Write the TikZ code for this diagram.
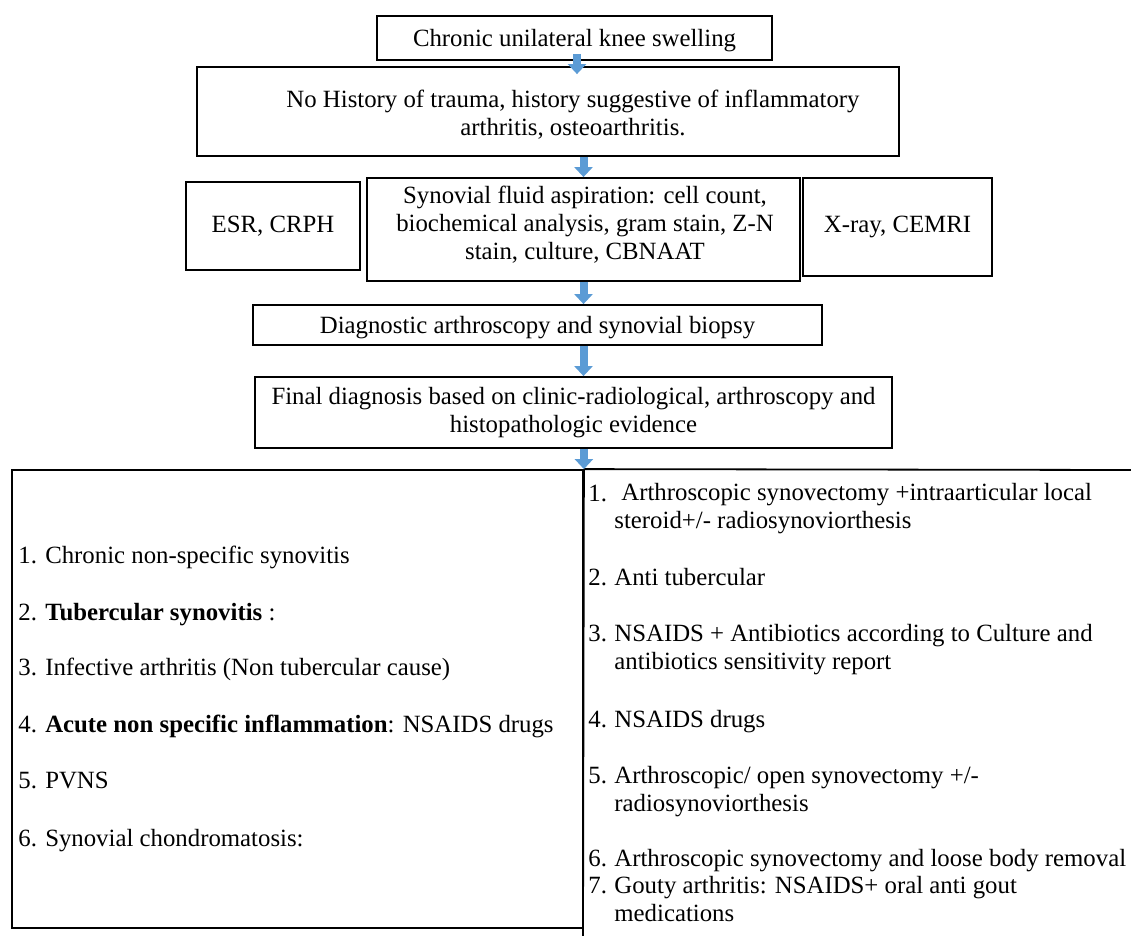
\documentclass[tikz,border=0pt]{standalone}
\usepackage{fontspec}
\setmainfont{Liberation Serif}
\usepackage{xcolor}
\usepackage{tikz}
\usetikzlibrary{arrows.meta, positioning, calc}
\definecolor{flowblue}{HTML}{5B9BD5}

\begin{document}
\begin{tikzpicture}[x=0.5pt, y=-0.5pt,
  box/.style={draw, line width=0.9pt, align=center, inner sep=0pt, font=\fontsize{12.4}{14}\selectfont},
  boxtext/.style={align=center, inner sep=0pt, font=\fontsize{12.4}{14}\selectfont},
  item/.style={anchor=base west, align=left, inner sep=0pt, font=\fontsize{12.4}{14}\selectfont},
  flow/.style={line width=4pt, flowblue, -{Triangle[length=5pt, width=9pt]}}]
  \useasboundingbox (0,0) rectangle (1131,936);

  % Top of the chart
  \node[box, minimum width=197.5pt, minimum height=22pt, text depth=0pt] (start) at (574.5,38) {Chronic unilateral knee swelling};
  \node[box, minimum width=351pt, minimum height=44.5pt] (history) at (548,111.5) {};
  \node[boxtext] (historytext) at (573,115)
    {No History of trauma, history suggestive of inflammatory\\arthritis, osteoarthritis.};

  % Investigations
  \node[box, minimum width=87pt, minimum height=44pt] (esr) at (273,226) {ESR, CRPH};
  \node[box, minimum width=216.5pt, minimum height=51.5pt] (fluid) at (583.5,229.5) {};
  \node[boxtext] (fluidtext) at (585,225)
    {Synovial fluid aspiration: cell count,\\biochemical analysis, gram stain, Z-N\\stain, culture, CBNAAT};
  \node[box, minimum width=94.5pt, minimum height=49pt] (xray) at (897.5,227) {X-ray, CEMRI};

  \node[box, minimum width=284.5pt, minimum height=20pt, text depth=0pt] (arthro) at (537.5,325) {Diagnostic arthroscopy and synovial biopsy};
  \node[box, minimum width=318.5pt, minimum height=35.5pt] (final) at (573.5,412.5)
    {Final diagnosis based on clinic-radiological, arthroscopy and\\histopathologic evidence};

  % Diagnosis box and treatment lines
  \node[draw, line width=0.9pt, minimum width=285.5pt, minimum height=229pt, inner sep=0pt] (diagbox) at (297.5,699) {};
  \coordinate (treatend) at (1131,470);
  \coordinate (treatfoot) at (583,936);
  \draw[line width=0.9pt] (diagbox.north east) -- (treatend);
  \draw[line width=0.9pt] (diagbox.north east) -- (treatfoot);

  % Arrows
  \draw[flow] ([xshift=1.25pt, yshift=3.5pt]start.south) -- ([xshift=1.25pt, yshift=-4pt]start.south |- history.north);
  \draw[flow] (history.south -| fluid.north) -- (fluid.north);
  \draw[flow] (fluid.south) -- (fluid.south |- arthro.north);
  \draw[flow] (arthro.south -| fluid.south) -- (final.north -| fluid.south);
  \draw[flow] (final.south -| diagbox.north east) -- (diagbox.north east);

  % Diagnoses
  \node[item] (dx1) at (18,563) {1. Chronic non-specific synovitis};
  \node[item] (dx2) at (18,620) {2. \textbf{Tubercular synovitis} :};
  \node[item] (dx3) at (18,675) {3. Infective arthritis (Non tubercular cause)};
  \node[item] (dx4) at (18,732) {4. \textbf{Acute non specific inflammation}: NSAIDS drugs};
  \node[item] (dx5) at (18,788) {5. PVNS};
  \node[item] (dx6) at (18,846) {6. Synovial chondromatosis:};

  % Treatments (multi-line nodes sit on their last line)
  \node[item] (tr1num) at (588,502) {1.};
  \node[item] (tr1) at (614,529) {\hspace*{3.5pt}Arthroscopic synovectomy +intraarticular local\\steroid+/- radiosynoviorthesis};
  \node[item] (tr2num) at (588,585) {2.};
  \node[item] (tr2) at (614,585) {Anti tubercular};
  \node[item] (tr3num) at (588,641) {3.};
  \node[item] (tr3) at (614,669) {NSAIDS + Antibiotics according to Culture and\\antibiotics sensitivity report};
  \node[item] (tr4num) at (588,727) {4.};
  \node[item] (tr4) at (614,727) {NSAIDS drugs};
  \node[item] (tr5num) at (588,783) {5.};
  \node[item] (tr5) at (614,811) {Arthroscopic/ open synovectomy +/-\\radiosynoviorthesis};
  \node[item] (tr6num) at (588,866) {6.};
  \node[item] (tr6) at (614,866) {Arthroscopic synovectomy and loose body removal};
  \node[item] (tr7num) at (588,893) {7.};
  \node[item] (tr7) at (614,921) {Gouty arthritis: NSAIDS+ oral anti gout\\medications};
\end{tikzpicture}
\end{document}
